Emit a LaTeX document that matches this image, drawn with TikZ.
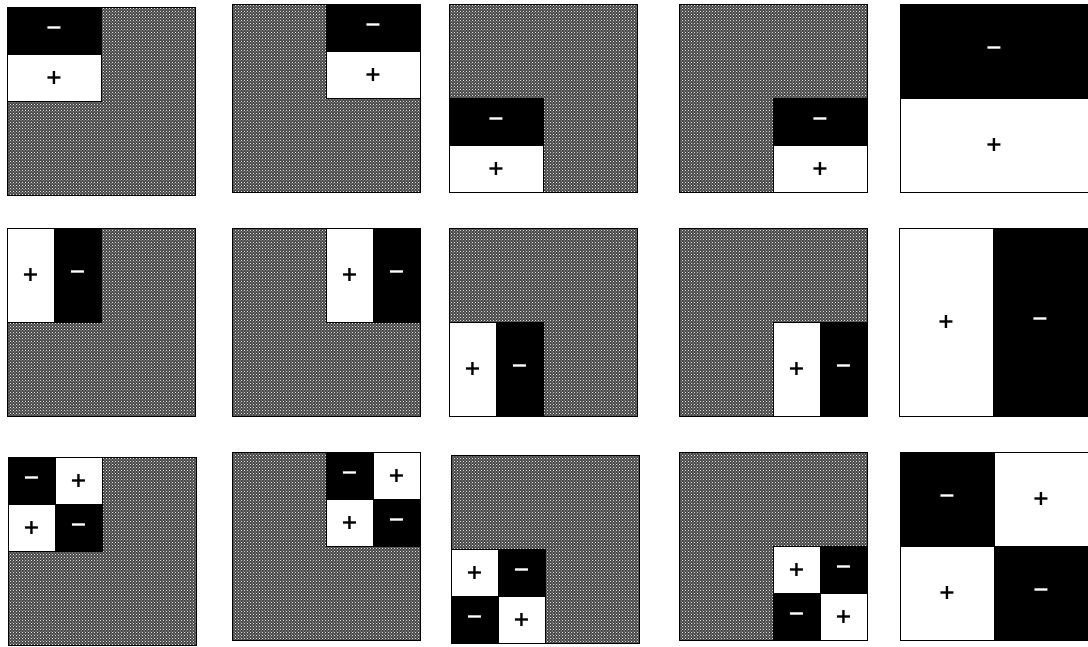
\documentclass[tikz,border=0pt]{standalone}
\usepackage{fontspec}
\setsansfont{DejaVu Sans}
\usetikzlibrary{positioning,patterns}

\begin{document}
\begin{tikzpicture}[
  x=1pt, y=1pt,
  panel/.style={draw, thick, anchor=north west, inner sep=0pt, outer sep=0pt,
                minimum width=188pt, minimum height=188pt,
                preaction={fill=black!72},
                pattern=crosshatch dots, pattern color=white},
  cell/.style={draw, inner sep=0pt, outer sep=0pt, font=\sffamily\bfseries\huge},
  negcell/.style={cell, fill=black, text=white},
  poscell/.style={cell, fill=white, text=black},
  wide/.style={minimum width=94pt, minimum height=47pt},
  tall/.style={minimum width=47pt, minimum height=94pt},
  quad/.style={minimum width=47pt, minimum height=47pt},
  bigwide/.style={minimum width=188pt, minimum height=94pt},
  bigtall/.style={minimum width=94pt, minimum height=188pt},
  bigquad/.style={minimum width=94pt, minimum height=94pt},
  node distance=0pt
]
\useasboundingbox (0,0) rectangle (1088,-646);

%% Row 1: horizontal edge feature
\node[panel] (r1c1) at (7,-7) {};
\node[panel] (r1c2) at (232,-4) {};
\node[panel] (r1c3) at (449,-4) {};
\node[panel] (r1c4) at (679,-4) {};
\node[negcell, bigwide, anchor=north west] (r1c5n) at (900,-4) {−};
\node[poscell, bigwide, below=of r1c5n] (r1c5p) {+};

\node[negcell, wide, anchor=north west] (r1c1n) at (r1c1.north west) {−};
\node[poscell, wide, below=of r1c1n] (r1c1p) {+};
\node[negcell, wide, anchor=north east] (r1c2n) at (r1c2.north east) {−};
\node[poscell, wide, below=of r1c2n] (r1c2p) {+};
\node[poscell, wide, anchor=south west] (r1c3p) at (r1c3.south west) {+};
\node[negcell, wide, above=of r1c3p] (r1c3n) {−};
\node[poscell, wide, anchor=south east] (r1c4p) at (r1c4.south east) {+};
\node[negcell, wide, above=of r1c4p] (r1c4n) {−};
\draw[thick] (r1c5n.north west) rectangle (r1c5p.south east);

%% Row 2: vertical edge feature
\node[panel] (r2c1) at (7,-228) {};
\node[panel] (r2c2) at (232,-228) {};
\node[panel] (r2c3) at (449,-228) {};
\node[panel] (r2c4) at (679,-228) {};
\node[poscell, bigtall, anchor=north west] (r2c5p) at (899,-228) {+};
\node[negcell, bigtall, right=of r2c5p] (r2c5n) {−};

\node[poscell, tall, anchor=north west] (r2c1p) at (r2c1.north west) {+};
\node[negcell, tall, right=of r2c1p] (r2c1n) {−};
\node[negcell, tall, anchor=north east] (r2c2n) at (r2c2.north east) {−};
\node[poscell, tall, left=of r2c2n] (r2c2p) {+};
\node[poscell, tall, anchor=south west] (r2c3p) at (r2c3.south west) {+};
\node[negcell, tall, right=of r2c3p] (r2c3n) {−};
\node[negcell, tall, anchor=south east] (r2c4n) at (r2c4.south east) {−};
\node[poscell, tall, left=of r2c4n] (r2c4p) {+};
\draw[thick] (r2c5p.north west) rectangle (r2c5n.south east);

%% Row 3: diagonal (checkerboard) feature
\node[panel] (r3c1) at (8,-457) {};
\node[panel] (r3c2) at (232,-452) {};
\node[panel] (r3c3) at (451,-455) {};
\node[panel] (r3c4) at (679,-452) {};
\node[negcell, bigquad, anchor=north west] (r3c5a) at (900,-452) {−};
\node[poscell, bigquad, right=of r3c5a] (r3c5b) {+};
\node[poscell, bigquad, below=of r3c5a] (r3c5c) {+};
\node[negcell, bigquad, right=of r3c5c] (r3c5d) {−};

\node[negcell, quad, anchor=north west] (r3c1a) at (r3c1.north west) {−};
\node[poscell, quad, right=of r3c1a] (r3c1b) {+};
\node[poscell, quad, below=of r3c1a] (r3c1c) {+};
\node[negcell, quad, right=of r3c1c] (r3c1d) {−};

\node[poscell, quad, anchor=north east] (r3c2b) at (r3c2.north east) {+};
\node[negcell, quad, left=of r3c2b] (r3c2a) {−};
\node[poscell, quad, below=of r3c2a] (r3c2c) {+};
\node[negcell, quad, right=of r3c2c] (r3c2d) {−};

\node[negcell, quad, anchor=south west] (r3c3c) at (r3c3.south west) {−};
\node[poscell, quad, right=of r3c3c] (r3c3d) {+};
\node[poscell, quad, above=of r3c3c] (r3c3a) {+};
\node[negcell, quad, right=of r3c3a] (r3c3b) {−};

\node[poscell, quad, anchor=south east] (r3c4d) at (r3c4.south east) {+};
\node[negcell, quad, left=of r3c4d] (r3c4c) {−};
\node[poscell, quad, above=of r3c4c] (r3c4a) {+};
\node[negcell, quad, right=of r3c4a] (r3c4b) {−};
\draw[thick] (r3c5a.north west) rectangle (r3c5d.south east);

\end{tikzpicture}
\end{document}
